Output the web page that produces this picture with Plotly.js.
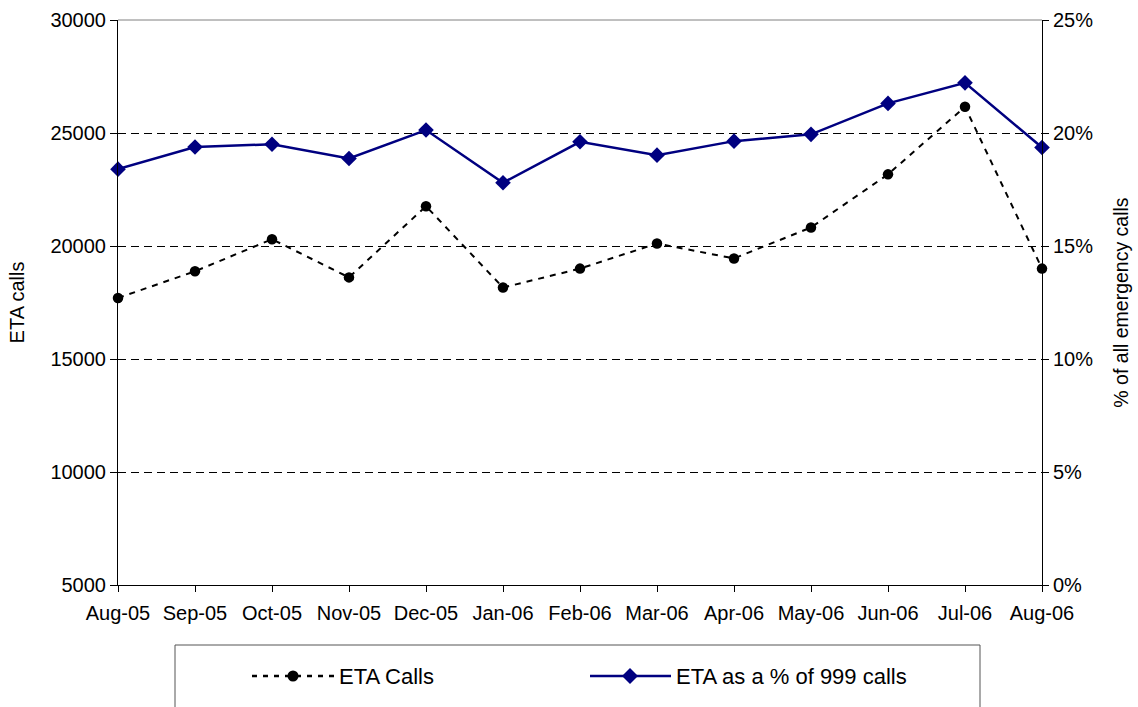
<!DOCTYPE html>
<html>
<head>
<meta charset="utf-8">
<script src="https://cdn.plot.ly/plotly-3.0.1.min.js"></script>
<style>html,body{margin:0;padding:0;background:#fff;}#chart{width:1138px;height:707px;}</style>
</head>
<body>
<div id="chart"></div>
<script>
const months = ["Aug-05","Sep-05","Oct-05","Nov-05","Dec-05","Jan-06","Feb-06","Mar-06","Apr-06","May-06","Jun-06","Jul-06","Aug-06"];
const etaCalls = [17700,18880,20300,18610,21760,18160,19000,20110,19450,20820,23170,26160,19000];
const etaPct = [18.4,19.38,19.5,18.87,20.13,17.8,19.61,19.02,19.64,19.94,21.31,22.22,19.36];
const leftTicks = [5000,10000,15000,20000,25000,30000];
const rightTicks = [0,5,10,15,20,25];

const FONT = "Liberation Sans, Arial, sans-serif";
const M = {l:118, r:96, t:20, b:122};
const W = 1138, H = 707;
const pw = W - M.l - M.r, ph = H - M.t - M.b;
const px = X => (X - M.l) / pw;
const py = Y => (H - M.b - Y) / ph;

const traces = [
  {x: months, y: etaCalls, name: "ETA Calls", type: "scatter", mode: "lines+markers",
   yaxis: "y", cliponaxis: false,
   line: {color: "#000000", width: 2, dash: "6px,6px"},
   marker: {symbol: "circle", size: 10.5, color: "#000000"}},
  {x: months, y: etaPct, name: "ETA as a % of 999 calls", type: "scatter", mode: "lines+markers",
   yaxis: "y2", cliponaxis: false,
   line: {color: "#000080", width: 2.5},
   marker: {symbol: "diamond", size: 12, color: "#000080"}}
];

const ly = 676;
const layout = {
  width: W, height: H,
  margin: M,
  paper_bgcolor: "#ffffff", plot_bgcolor: "#ffffff",
  font: {family: FONT, size: 20, color: "#000000"},
  showlegend: false,
  hovermode: false,
  xaxis: {type: "category", range: [0, 12], showgrid: false, zeroline: false,
          showline: true, linecolor: "#000000", linewidth: 1,
          ticks: "outside", ticklen: 6, tickcolor: "#000000", tickangle: 0,
          ticklabelstandoff: 4,
          tickfont: {size: 20}},
  yaxis: {range: [5000, 30000], tickvals: leftTicks, ticktext: leftTicks.map(String),
          showgrid: true, gridcolor: "#000000", gridwidth: 1, griddash: "8px,5px",
          zeroline: false, showline: true, linecolor: "#000000", linewidth: 1,
          ticks: "outside", ticklen: 7, tickcolor: "#000000",
          tickfont: {size: 20},
          title: {text: "ETA calls", font: {size: 20}, standoff: 20}},
  yaxis2: {range: [0, 25], overlaying: "y", side: "right", anchor: "x",
           tickvals: rightTicks, ticktext: rightTicks.map(v => v + "%"),
           showgrid: false, zeroline: false, showline: true, linecolor: "#000000", linewidth: 1,
           ticks: "outside", ticklen: 6, tickcolor: "#000000",
           tickfont: {size: 20},
           title: {text: "% of all emergency calls", font: {size: 19.5}, standoff: 22}},
  shapes: [
    {type: "line", xref: "paper", yref: "paper", x0: 0, x1: 1, y0: 1, y1: 1,
     line: {color: "#808080", width: 1}, layer: "above"},
    {type: "rect", xref: "paper", yref: "paper", x0: px(175), x1: px(980), y0: py(645), y1: py(740),
     line: {color: "#555555", width: 1}, fillcolor: "rgba(0,0,0,0)"},
    {type: "line", xref: "paper", yref: "paper", x0: px(252), x1: px(337), y0: py(ly), y1: py(ly),
     line: {color: "#000000", width: 2.5, dash: "5px,6px"}},
    {type: "circle", xref: "paper", yref: "paper", xsizemode: "pixel", ysizemode: "pixel",
     xanchor: px(293), yanchor: py(ly), x0: -5.5, x1: 5.5, y0: -5.5, y1: 5.5,
     line: {color: "#000000", width: 0}, fillcolor: "#000000"},
    {type: "line", xref: "paper", yref: "paper", x0: px(590), x1: px(671), y0: py(ly), y1: py(ly),
     line: {color: "#000080", width: 2.5}},
    {type: "path", xref: "paper", yref: "paper", xsizemode: "pixel", ysizemode: "pixel",
     xanchor: px(630), yanchor: py(ly), path: "M -8 0 L 0 8 L 8 0 L 0 -8 Z",
     line: {color: "#000080", width: 0}, fillcolor: "#000080"}
  ],
  annotations: [
    {xref: "paper", yref: "paper", x: px(337), y: py(ly), xanchor: "left", yanchor: "middle",
     text: "ETA Calls", showarrow: false, font: {size: 22, family: FONT}},
    {xref: "paper", yref: "paper", x: px(674), y: py(ly), xanchor: "left", yanchor: "middle",
     text: "ETA as a % of 999 calls", showarrow: false, font: {size: 22, family: FONT}}
  ]
};

Plotly.newPlot("chart", traces, layout, {staticPlot: true, displayModeBar: false});
</script>
</body>
</html>
